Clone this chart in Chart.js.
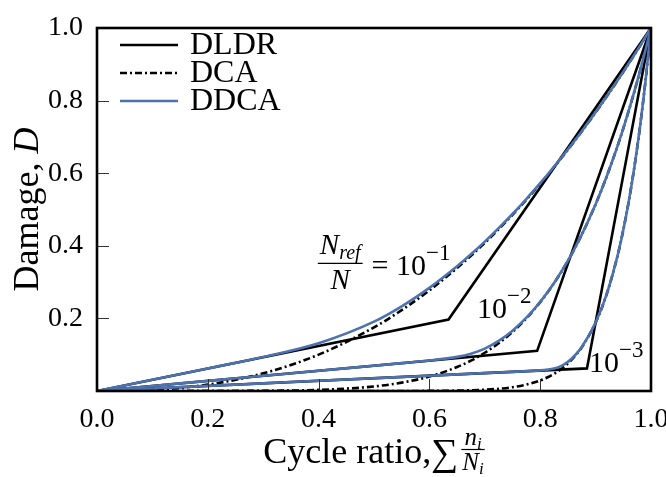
<!DOCTYPE html>
<html><head><meta charset="utf-8">
<script src="https://cdn.jsdelivr.net/npm/chart.js@4.4.0/dist/chart.umd.min.js"></script>
<style>html,body{margin:0;padding:0;background:#fff}#wrap{width:666px;height:477px}</style>
</head><body><div id="wrap"><canvas id="c" width="666" height="477"></canvas></div>
<script>
// ---- data ----
const cycleRatio = [0,0.1,0.2,0.3,0.4,0.5,0.55,0.6,0.65,0.675,0.7,0.725,0.75,0.775,0.8,0.8125,0.825,0.8375,0.85,0.8625,0.875,0.9,0.92,0.94,0.95,0.96,0.97,0.98,0.99,1];
const dca1  = [0,0.0031,0.0175,0.0486,0.1001,0.1753,0.2228,0.2772,0.3389,0.3726,0.4082,0.4458,0.4855,0.5272,0.5709,0.5936,0.6168,0.6405,0.6648,0.6897,0.7150,0.7675,0.8110,0.8561,0.8791,0.9025,0.9264,0.9505,0.9751,1];
const dca2  = [0,0,0.00004,0.0005,0.0031,0.0126,0.0230,0.0398,0.0660,0.0837,0.1054,0.1315,0.1628,0.2002,0.2447,0.2698,0.2971,0.3266,0.3586,0.3933,0.4306,0.5144,0.5909,0.6768,0.7235,0.7729,0.8252,0.8803,0.9386,1];
const dca3  = [0,0,0,0,0,0.00002,0.00008,0.0003,0.0011,0.0020,0.0035,0.0061,0.0105,0.0176,0.0291,0.0372,0.0474,0.0602,0.0761,0.0959,0.1205,0.1883,0.2667,0.3751,0.4436,0.5236,0.6171,0.7260,0.8528,1];
const ddca1 = [0,0.0310,0.0621,0.0938,0.1316,0.1911,0.2333,0.2842,0.3436,0.3765,0.4114,0.4485,0.4876,0.5289,0.5724,0.5949,0.6180,0.6416,0.6657,0.6905,0.7158,0.7680,0.8114,0.8564,0.8794,0.9027,0.9265,0.9506,0.9751,1];
const ddca2 = [0,0.0139,0.0279,0.0418,0.0557,0.0697,0.0767,0.0840,0.0940,0.1028,0.1169,0.1379,0.1662,0.2020,0.2456,0.2705,0.2976,0.3270,0.3589,0.3935,0.4308,0.5145,0.5910,0.6768,0.7235,0.7730,0.8252,0.8803,0.9386,1];
const ddca3 = [0,0.0070,0.0141,0.0211,0.0281,0.0352,0.0387,0.0422,0.0457,0.0475,0.0493,0.0510,0.0528,0.0546,0.0567,0.0585,0.0618,0.0684,0.0802,0.0978,0.1213,0.1884,0.2668,0.3751,0.4436,0.5236,0.6171,0.7260,0.8528,1];
const dldr1X = [0,0.6345,1], dldr1Y = [0,0.1968,1];
const dldr2X = [0,0.7945,1], dldr2Y = [0,0.1107,1];
const dldr3X = [0,0.8844,1], dldr3Y = [0,0.0622,1];
const xTickValues = [0,0.2,0.4,0.6,0.8,1.0];
const xTickLabels = ['0.0','0.2','0.4','0.6','0.8','1.0'];
const yTickValues = [0,0.2,0.4,0.6,0.8,1.0];
const yTickLabels = ['','0.2','0.4','0.6','0.8','1.0'];
const legendLabels = ['DLDR','DCA','DDCA'];

const FONT = '"Liberation Serif","DejaVu Serif",serif';
const BLUE = '#4C72B0';
const DASHDOT = [7,3,2,3];

function pts(xs, ys){ return xs.map((x,i)=>({x:x, y:ys[i]})); }
function ds(xs, ys, color, dash, order){
  return {data:pts(xs,ys), borderColor:color, borderWidth:2.6, borderDash:dash||[], pointRadius:0,
    fill:false, tension:0, cubicInterpolationMode: xs.length>3 ? 'monotone' : 'default', order:order};
}
const datasets = [
  ds(dldr1X,dldr1Y,'#000',null,3), ds(dldr2X,dldr2Y,'#000',null,3), ds(dldr3X,dldr3Y,'#000',null,3),
  ds(cycleRatio,dca1,'#000',DASHDOT,2), ds(cycleRatio,dca2,'#000',DASHDOT,2), ds(cycleRatio,dca3,'#000',DASHDOT,2),
  ds(cycleRatio,ddca1,BLUE,null,1), ds(cycleRatio,ddca2,BLUE,null,1), ds(cycleRatio,ddca3,BLUE,null,1)
];

function setFont(ctx, size, italic){ ctx.font = (italic?'italic ':'') + size + 'px ' + FONT; }
function runs(ctx, parts, x, y){ // parts: [text,size,italic,dy]
  let cx = x;
  parts.forEach(p=>{ setFont(ctx,p[1],p[2]); ctx.fillText(p[0], cx, y + (p[3]||0)); cx += ctx.measureText(p[0]).width; });
  return cx;
}
function runsWidth(ctx, parts){
  let w=0; parts.forEach(p=>{ setFont(ctx,p[1],p[2]); w += ctx.measureText(p[0]).width; }); return w;
}

const decor = {
  id:'decor',
  afterDraw(chart){
    const {ctx, chartArea:a, scales} = chart;
    const X = v=>scales.x.getPixelForValue(v), Y = v=>scales.y.getPixelForValue(v);
    ctx.save();
    // inward ticks
    ctx.strokeStyle='#333'; ctx.lineWidth=1;
    xTickValues.forEach(v=>{ const px=Math.round(X(v))+0.5; ctx.beginPath(); ctx.moveTo(px,a.bottom); ctx.lineTo(px,a.bottom-12); ctx.stroke(); });
    yTickValues.forEach(v=>{ const py=Math.round(Y(v))+0.5; ctx.beginPath(); ctx.moveTo(a.left,py); ctx.lineTo(a.left+12,py); ctx.stroke(); });
    // frame
    ctx.strokeStyle='#000'; ctx.lineWidth=2.6;
    ctx.strokeRect(a.left,a.top,a.right-a.left,a.bottom-a.top);
    ctx.fillStyle='#000'; ctx.textBaseline='alphabetic'; ctx.textAlign='left';
    // legend
    const legY=[45,73,101], lx0=120, lx1=178;
    const styles=[['#000',[]],['#000',DASHDOT],[BLUE,[]]];
    legendLabels.forEach((t,i)=>{
      ctx.strokeStyle=styles[i][0]; ctx.setLineDash(styles[i][1]); ctx.lineWidth=2.6;
      ctx.beginPath(); ctx.moveTo(lx0,legY[i]); ctx.lineTo(lx1,legY[i]); ctx.stroke();
      ctx.setLineDash([]);
      setFont(ctx,32,false); ctx.textBaseline='middle'; ctx.fillText(t,190,legY[i]+1);
    });
    ctx.textBaseline='alphabetic';
    // annotation 10^-1 with fraction
    {
      const cx=X(0.439), by=Y(0.353);
      setFont(ctx,29,true); const wN=ctx.measureText('N').width;
      const numParts=[['N',29,true,0],['ref',20,true,5]];
      const wNum=runsWidth(ctx,numParts);
      runs(ctx,numParts,cx-wNum/2,by-9);
      ctx.lineWidth=1.3; ctx.strokeStyle='#000';
      ctx.beginPath(); ctx.moveTo(cx-wNum/2-2,by+0.5); ctx.lineTo(cx+wNum/2+2,by+0.5); ctx.stroke();
      setFont(ctx,29,true); ctx.fillText('N',cx-wN/2,by+26);
      const ex=cx+wNum/2+11;
      runs(ctx,[['= 10',30,false,0],['\u22121',23,false,-15]],ex,by+12);
    }
    runs(ctx,[['10',30,false,0],['\u22122',23,false,-15]],X(0.686),Y(0.2));
    runs(ctx,[['10',30,false,0],['\u22123',23,false,-15]],X(0.888),Y(0.052));
    // y title
    ctx.save();
    ctx.translate(38,(a.top+a.bottom)/2); ctx.rotate(-Math.PI/2);
    const yParts=[['Damage, ',36,false,0],['D',36,true,0]];
    const wy=runsWidth(ctx,yParts); runs(ctx,yParts,-wy/2,0);
    ctx.restore();
    // x title
    {
      const base=463;
      const p1=[['Cycle ratio,',36,false,0]];
      const w1=runsWidth(ctx,p1);
      setFont(ctx,38,false); const wS=ctx.measureText('\u2211').width;
      const num=[['n',25,true,0],['i',17,true,4]], den=[['N',25,true,0],['i',17,true,4]];
      const wn=runsWidth(ctx,num), wd=runsWidth(ctx,den), wf=Math.max(wn,wd)+2;
      const total=w1+wS+3+wf;
      let sx=(a.left+a.right)/2-total/2;
      runs(ctx,p1,sx,base); sx+=w1;
      setFont(ctx,38,false); ctx.fillText('\u2211',sx,base+2); sx+=wS+3;
      const fc=sx+wf/2, bar=base-14;
      runs(ctx,num,fc-wn/2,bar-4);
      ctx.lineWidth=1.2; ctx.beginPath(); ctx.moveTo(sx,bar+0.5); ctx.lineTo(sx+wf,bar+0.5); ctx.stroke();
      runs(ctx,den,fc-wd/2,bar+21);
    }
    ctx.restore();
  }
};

new Chart(document.getElementById('c'), {
  type:'line',
  data:{datasets:datasets},
  options:{
    responsive:false, animation:false, devicePixelRatio:1,
    layout:{padding:{top:28,right:15,left:0,bottom:0}},
    plugins:{legend:{display:false}, tooltip:{enabled:false}},
    scales:{
      x:{type:'linear', min:0, max:1,
        afterBuildTicks:s=>{ s.ticks = xTickValues.map(v=>({value:v})); },
        afterFit:s=>{ s.height=86; s.paddingLeft=0; s.paddingRight=0; },
        grid:{display:false, drawTicks:false}, border:{display:false},
        ticks:{padding:12, color:'#000', font:{family:FONT,size:28}, maxRotation:0,
          callback:(v)=>{ const i=xTickValues.findIndex(t=>Math.abs(t-v)<1e-6); return i>=0?xTickLabels[i]:''; }}},
      y:{type:'linear', min:0, max:1,
        afterBuildTicks:s=>{ s.ticks = yTickValues.map(v=>({value:v})); },
        afterFit:s=>{ s.width=97; s.paddingTop=0; s.paddingBottom=0; },
        grid:{display:false, drawTicks:false}, border:{display:false},
        ticks:{padding:14, color:'#000', font:{family:FONT,size:28},
          callback:(v)=>{ const i=yTickValues.findIndex(t=>Math.abs(t-v)<1e-6); return i>=0?yTickLabels[i]:''; }}}
    }
  },
  plugins:[decor]
});
</script></body></html>
